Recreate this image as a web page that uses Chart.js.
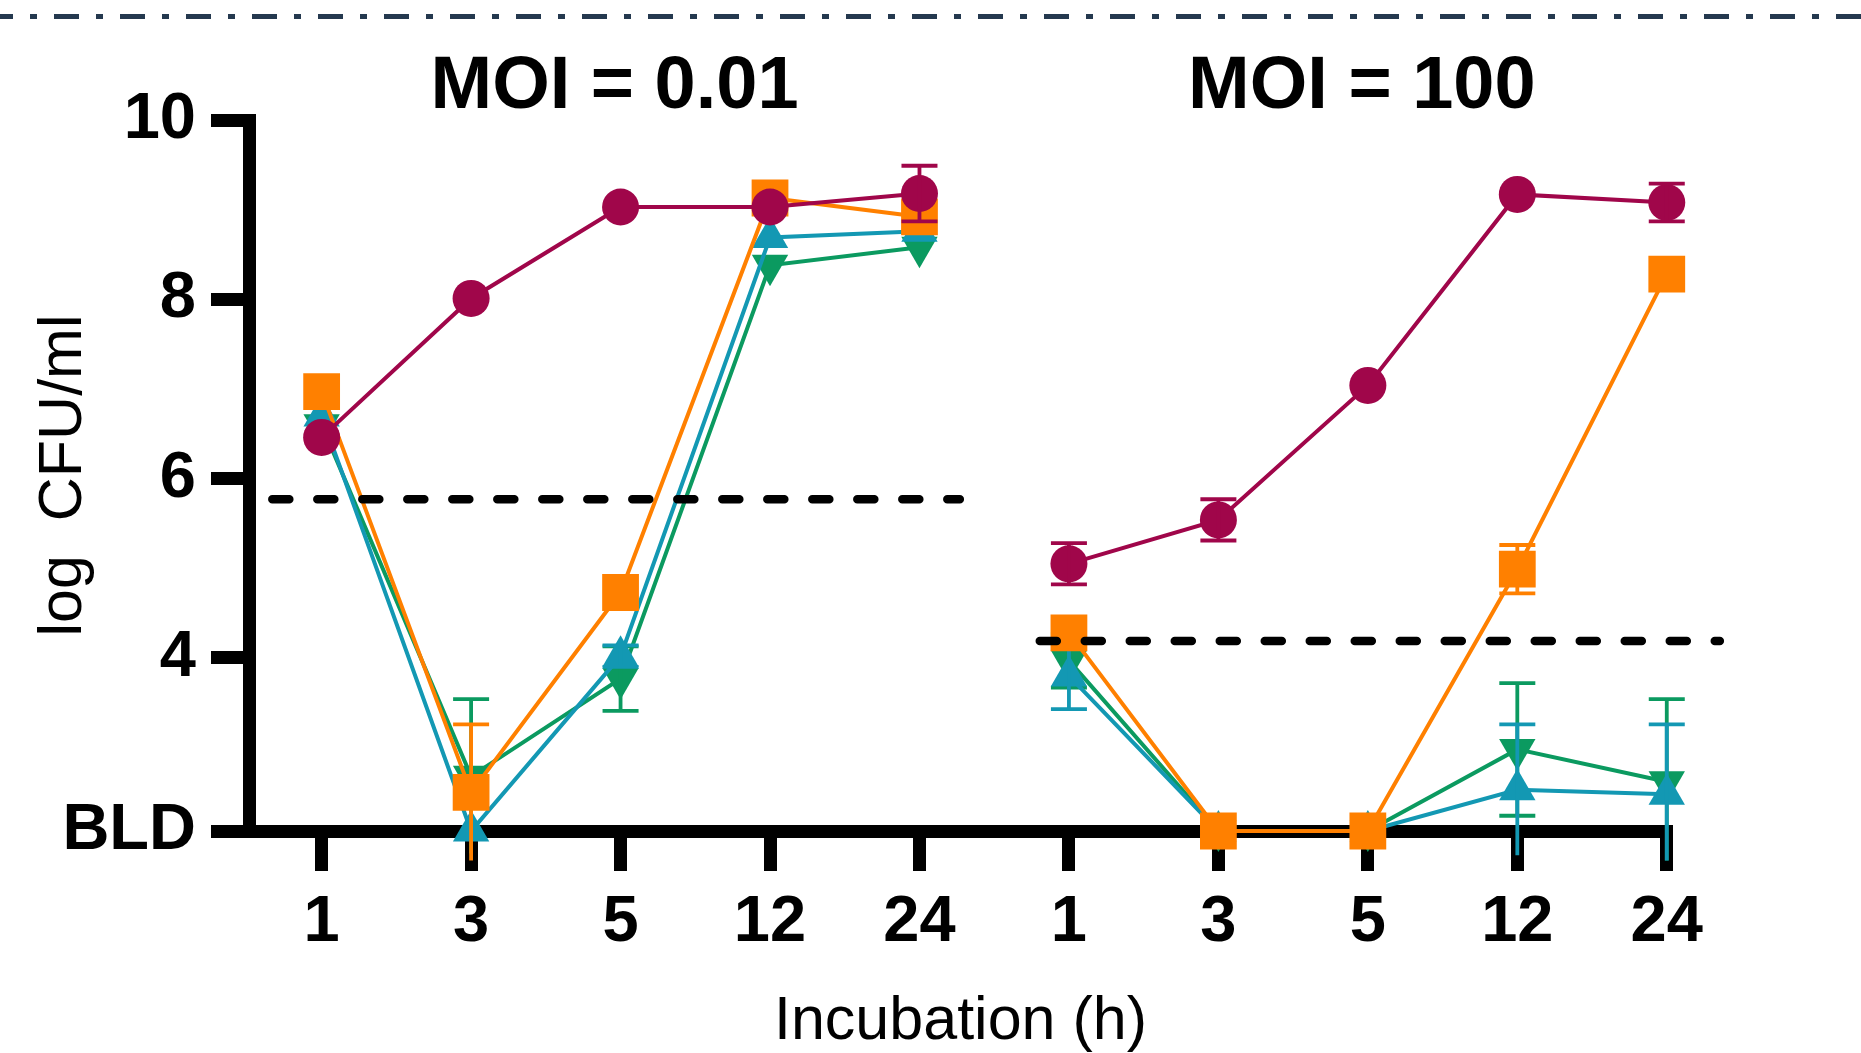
<!DOCTYPE html>
<html>
<head>
<meta charset="utf-8">
<script src="https://cdn.jsdelivr.net/npm/chart.js@4"></script>
<style>
  html, body { margin: 0; padding: 0; background: #fff; }
  #wrap { width: 1861px; height: 1053px; }
</style>
</head>
<body>
<div id="wrap"><canvas id="chart" width="1861" height="1053"></canvas></div>
<script>
(() => {
  'use strict'

  // "below limit of detection" floor of the y axis
  const BLD = 2.07

  const hourLabels = ['1', '3', '5', '12', '24']
  const panelTitles = ['MOI = 0.01', 'MOI = 100']
  const yTickValues = [BLD, 4, 6, 8, 10]
  const yTickLabels = ['BLD', '4', '6', '8', '10']

  // MOI = 0.01
  const circleLow = [6.46, 8.01, 9.03, 9.03, 9.18]
  const squareLow = [6.97, 2.5, 4.73, 9.13, 8.92]
  const upTriLow = [6.7, BLD, 4.02, 8.69, 8.76]
  const downTriLow = [6.6, 2.68, 3.77, 8.38, 8.58]

  // MOI = 100
  const circleHigh = [5.05, 5.54, 7.04, 9.17, 9.08]
  const squareHigh = [4.28, BLD, BLD, 4.99, 8.28]
  const upTriHigh = [3.8, BLD, BLD, 2.53, 2.48]
  const downTriHigh = [3.97, BLD, BLD, 2.98, 2.62]

  // error bars (SD)
  const circleLowErr = [0, 0, 0, 0, 0.31]
  const squareLowErr = [0, 0.76, 0, 0, 0]
  const upTriLowErr = [0, 0, 0.12, 0, 0]
  const downTriLowErr = [0, 0.86, 0.36, 0, 0]
  const circleHighErr = [0.23, 0.23, 0, 0, 0.21]
  const squareHighErr = [0, 0, 0, 0.27, 0]
  const upTriHighErr = [0.37, 0, 0, 0.73, 0.78]
  const downTriHighErr = [0.3, 0, 0, 0.74, 0.92]

  // detection limit (dashed) per panel, and its x span in category units
  const detectionLimits = [5.77, 4.19]
  const detectionSpans = [[-0.33, 4.27], [4.805, 9.355]]

  const xTickLabels = hourLabels.concat(hourLabels)
  const xTickValues = xTickLabels.map((_, i) => i)

  const family = "'Liberation Sans', Arial, sans-serif"
  Chart.defaults.font.family = family
  Chart.defaults.color = '#000'

  const series = [
    { color: '#a0064a', style: 'circle', radius: 18.5, rotation: 0,
      values: [circleLow, circleHigh], errors: [circleLowErr, circleHighErr] },
    { color: '#ff8000', style: 'rect', radius: 26, rotation: 0,
      values: [squareLow, squareHigh], errors: [squareLowErr, squareHighErr] },
    { color: '#1398b3', style: 'triangle', radius: 21, rotation: 0,
      values: [upTriLow, upTriHigh], errors: [upTriLowErr, upTriHighErr] },
    { color: '#0b9a60', style: 'triangle', radius: 21, rotation: 180,
      values: [downTriLow, downTriHigh], errors: [downTriLowErr, downTriHighErr] },
  ]

  const datasets = []

  // dashed lines first so they end up on top
  detectionLimits.forEach((lim, p) => {
    datasets.push({
      data: detectionSpans[p].map(x => ({ x: x, y: lim })),
      borderColor: '#000',
      borderWidth: 8.5,
      borderDash: [17, 28],
      borderCapStyle: 'round',
      pointRadius: 0,
      clip: false,
    })
  })

  series.forEach(s => {
    s.values.forEach((vals, p) => {
      datasets.push({
        data: vals.map((v, i) => ({ x: p * 5 + i, y: v })),
        errors: s.errors[p],
        borderColor: s.color,
        backgroundColor: s.color,
        borderWidth: 4,
        tension: 0,
        pointStyle: s.style,
        pointRadius: s.radius,
        pointRotation: s.rotation,
        pointBackgroundColor: s.color,
        pointBorderWidth: 0,
        clip: false,
      })
    })
  })

  const errorBars = {
    id: 'errorBars',
    afterDatasetDraw(chart, args) {
      const ds = chart.data.datasets[args.index]
      if (!ds.errors) return
      const { ctx } = chart
      const xs = chart.scales.x
      const ys = chart.scales.y
      const half = 18
      const floor = BLD - 0.33
      ctx.save()
      ctx.strokeStyle = ds.borderColor
      ctx.lineWidth = 3.8
      ds.data.forEach((pt, i) => {
        const err = ds.errors[i]
        if (!err) return
        const px = xs.getPixelForValue(pt.x)
        const top = ys.getPixelForValue(pt.y + err)
        const low = pt.y - err
        const bottom = ys.getPixelForValue(Math.max(low, floor))
        ctx.beginPath()
        ctx.moveTo(px, top)
        ctx.lineTo(px, bottom)
        ctx.moveTo(px - half, top)
        ctx.lineTo(px + half, top)
        if (low >= BLD) {
          ctx.moveTo(px - half, bottom)
          ctx.lineTo(px + half, bottom)
        }
        ctx.stroke()
      })
      ctx.restore()
    }
  }

  const decorations = {
    id: 'decorations',
    afterDraw(chart) {
      const { ctx, width } = chart
      const xs = chart.scales.x
      ctx.save()
      // dash-dot separator along the top edge
      ctx.strokeStyle = '#25394f'
      ctx.lineWidth = 5
      ctx.setLineDash([25, 17, 7, 17])
      ctx.lineDashOffset = 12
      ctx.beginPath()
      ctx.moveTo(0, 16.5)
      ctx.lineTo(width, 16.5)
      ctx.stroke()
      ctx.setLineDash([])
      // panel titles
      ctx.fillStyle = '#000'
      ctx.font = 'bold 74px ' + family
      ctx.textAlign = 'center'
      ctx.textBaseline = 'alphabetic'
      panelTitles.forEach((t, p) => {
        ctx.fillText(t, xs.getPixelForValue(p * 5 + 1.96), 108)
      })
      ctx.restore()
    }
  }

  new Chart(document.getElementById('chart'), {
    type: 'line',
    data: { datasets: datasets },
    plugins: [errorBars, decorations],
    options: {
      responsive: false,
      animation: false,
      events: [],
      layout: { padding: { left: 0, right: 189, top: 120, bottom: 0 } },
      plugins: {
        legend: { display: false },
        tooltip: { enabled: false },
      },
      scales: {
        x: {
          type: 'linear',
          min: -0.486,
          max: 9.035,
          afterBuildTicks: scale => { scale.ticks = xTickValues.map(v => ({ value: v })) },
          afterFit: scale => { scale.height = 222 },
          border: { display: true, width: 13, color: '#000' },
          grid: { drawOnChartArea: false, tickLength: 40, tickWidth: 13, tickColor: '#000' },
          ticks: {
            padding: 13,
            autoSkip: false,
            maxRotation: 0,
            color: '#000',
            font: { size: 65, weight: 'bold', lineHeight: 1.2 },
            callback: (value, index) => xTickLabels[index],
          },
          title: {
            display: true,
            text: 'Incubation (h)',
            color: '#000',
            font: { size: 61, lineHeight: 1 },
            padding: 0,
          },
        },
        y: {
          type: 'linear',
          min: BLD,
          max: 10,
          afterBuildTicks: scale => { scale.ticks = yTickValues.map(v => ({ value: v })) },
          afterFit: scale => { scale.width = 249 },
          border: { display: true, width: 13, color: '#000' },
          grid: { drawOnChartArea: false, tickLength: 38, tickWidth: 13, tickColor: '#000' },
          ticks: {
            padding: 15,
            color: '#000',
            font: { size: 65, weight: 'bold' },
            callback: (value, index) => yTickLabels[index],
          },
          title: {
            display: true,
            text: 'log  CFU/ml',
            color: '#000',
            font: { size: 61, lineHeight: 1 },
            padding: { top: 34, bottom: 0 },
          },
        },
      },
    },
  })
})()
</script>
</body>
</html>
